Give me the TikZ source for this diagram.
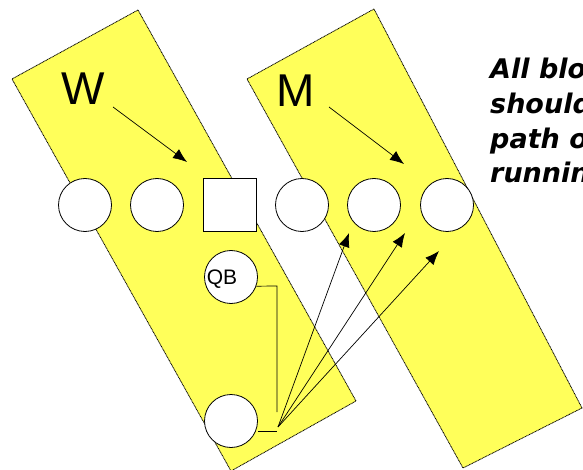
\documentclass[tikz,border=0pt]{standalone}
\usepackage{fontspec}
\usetikzlibrary{arrows.meta}
\setmainfont{Liberation Sans}
\newfontfamily\notefont{DejaVu Sans}
\definecolor{zoneyellow}{RGB}{255,255,90}
\begin{document}
\begin{tikzpicture}[x=1pt,y=-1pt,
  zone/.style={draw=black,dashed,dash pattern=on 1pt off 0.6pt,fill=zoneyellow,line width=0.8pt},
  player/.style={circle,draw=black,fill=white,minimum size=53pt,inner sep=0pt,line width=0.8pt},
  centre/.style={rectangle,draw=black,fill=white,minimum size=53pt,inner sep=0pt,line width=0.8pt},
  zlabel/.style={font=\fontsize{46}{46}\selectfont,inner sep=0pt},
  route/.style={draw=black,line width=0.7pt},
  arr/.style={route,-{Latex[length=14pt,width=11pt]}},
  note/.style={font=\notefont\bfseries\itshape\fontsize{27}{27}\selectfont,anchor=base west,inner sep=0pt}]
\useasboundingbox (0,0) rectangle (583,470);
\fill[white] (0,0) rectangle (583,470);
% zones
\draw[zone] (138,10) -- (12,79) -- (231,471) -- (356,401) -- cycle;
\draw[zone] (374,9) -- (247,79) -- (463,468) -- (582,408) -- cycle;
% labels
\node[zlabel] (W) at (83,89) {W};
\node[zlabel] (M) at (296,91) {M};
\coordinate (wa) at (113,107);
\coordinate (wt) at (187,162);
\coordinate (ma) at (329,107);
\coordinate (mt) at (404,164);
\draw[arr] (wa) -- (wt);
\draw[arr] (ma) -- (mt);
% line
\node[player] (p1) at (85,205) {};
\node[player] (p2) at (157,205) {};
\node[centre] (c) at (230,205) {};
\node[player] (p4) at (302,205) {};
\node[player] (p5) at (374,205) {};
\node[player] (p6) at (447,205) {};
% backs
\node[player] (qb) at (231,277) {};
\node[inner sep=0pt,font=\fontsize{21}{21}\selectfont] (qbt) at (222,279) {QB};
\node[player] (rb) at (231,421) {};
% routes
\coordinate (q1) at (277,286);
\coordinate (q2) at (277,412);
\coordinate (r1) at (277,431);
\coordinate (s) at (278,427);
\draw[route] (qb.-20) -- (q1) -- (q2);
\draw[route] (rb.east |- r1) -- (r1);
\coordinate (t1) at (349,233);
\coordinate (t2) at (405,233);
\coordinate (t3) at (439,251);
\draw[arr] (s) -- (t1);
\draw[arr] (s) -- (t2);
\draw[arr] (s) -- (t3);
% note
\node[note] (n1) at (490,79) {All blo};
\node[note] (n2) at (490,114) {should};
\node[note] (n3) at (490,149) {path o};
\node[note] (n4) at (490,183) {runnin};
\end{tikzpicture}
\end{document}
